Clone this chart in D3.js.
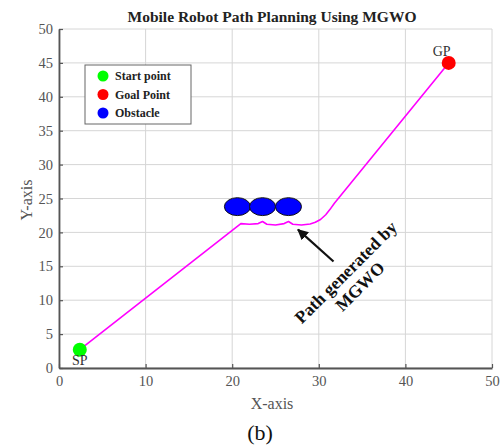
<!DOCTYPE html>
<html>
<head>
<meta charset="utf-8">
<script src="https://cdn.jsdelivr.net/npm/d3@7"></script>
<style>
  body { margin: 0; background: #fff; }
  svg { display: block; }
</style>
</head>
<body>
<svg width="502" height="448"></svg>
<script>
// data
const xTicks = [0, 10, 20, 30, 40, 50];
const yTicks = [0, 5, 10, 15, 20, 25, 30, 35, 40, 45, 50];
const startPoint = [2.4, 2.7];
const goalPoint = [45, 45];
const obstacles = [[20.6, 23.8], [23.5, 23.8], [26.5, 23.8]];
const pathX = [2.4, 21, 22, 23, 23.5, 24, 25, 26, 26.5, 27, 28, 29, 29.6, 30.2, 30.8, 31.3, 31.8, 45];
const pathY = [2.7, 21.3, 21.2, 21.3, 21.6, 21.2, 21.1, 21.3, 21.6, 21.2, 21.1, 21.25, 21.5, 21.9, 22.6, 23.4, 24.3, 45];
const legendItems = ["Start point", "Goal Point", "Obstacle"];
const legendColors = ["#00ff00", "#ff0000", "#0000ff"];

const serif = "Liberation Serif, Times New Roman, serif";
const svg = d3.select("svg");
svg.append("rect").attr("width", 502).attr("height", 448).attr("fill", "#fff");

const x = d3.scaleLinear().domain([0, 50]).range([59, 492]);
const y = d3.scaleLinear().domain([0, 50]).range([368, 29]);

// grid
svg.append("g").selectAll("line").data(xTicks).join("line")
   .attr("x1", d => x(d)).attr("x2", d => x(d))
   .attr("y1", y(0)).attr("y2", y(50))
   .attr("stroke", "#d6d6d6").attr("stroke-width", 1);
svg.append("g").selectAll("line").data(yTicks).join("line")
   .attr("x1", x(0)).attr("x2", x(50))
   .attr("y1", d => y(d)).attr("y2", d => y(d))
   .attr("stroke", "#d6d6d6").attr("stroke-width", 1);

// axes
const xAxis = svg.append("g")
   .attr("transform", `translate(0,${y(0)})`)
   .call(d3.axisBottom(x).tickValues(xTicks).tickSizeInner(-4).tickSizeOuter(0).tickPadding(8));
const yAxis = svg.append("g")
   .attr("transform", `translate(${x(0)},0)`)
   .call(d3.axisLeft(y).tickValues(yTicks).tickSizeInner(-4).tickSizeOuter(0).tickPadding(6));
[xAxis, yAxis].forEach(g => {
  g.select(".domain").attr("stroke", "#555").attr("stroke-width", 1.8);
  g.selectAll(".tick line").attr("stroke", "#555").attr("stroke-width", 1.2);
  g.selectAll(".tick text").attr("fill", "#555")
   .attr("font-family", serif).attr("font-size", 14.5);
});

// path
const line = d3.line().x(d => x(d[0])).y(d => y(d[1]));
svg.append("path")
   .datum(pathX.map((v, i) => [v, pathY[i]]))
   .attr("d", line)
   .attr("fill", "none")
   .attr("stroke", "#ff00ff")
   .attr("stroke-width", 1.6)
   .attr("stroke-linejoin", "round");

// obstacles (circles in data units)
const obR = 1.5;
svg.append("g").selectAll("ellipse").data(obstacles).join("ellipse")
   .attr("cx", d => x(d[0])).attr("cy", d => y(d[1]))
   .attr("rx", x(obR) - x(0)).attr("ry", (y(0) - y(obR)) * 0.88)
   .attr("fill", "#0000ff").attr("stroke", "#111").attr("stroke-width", 1);

// start and goal
svg.append("circle").attr("cx", x(startPoint[0])).attr("cy", y(startPoint[1]))
   .attr("r", 7).attr("fill", "#00ff00");
svg.append("circle").attr("cx", x(goalPoint[0])).attr("cy", y(goalPoint[1]))
   .attr("r", 7).attr("fill", "#ff0000");
svg.append("text").attr("x", x(startPoint[0])).attr("y", y(startPoint[1]) + 15)
   .attr("text-anchor", "middle").attr("font-family", serif).attr("font-size", 14)
   .attr("fill", "#333").text("SP");
svg.append("text").attr("x", x(goalPoint[0]) - 7).attr("y", y(goalPoint[1]) - 7)
   .attr("text-anchor", "middle").attr("font-family", serif).attr("font-size", 14)
   .attr("fill", "#333").text("GP");

// legend
svg.append("rect").attr("x", 85).attr("y", 65).attr("width", 106).attr("height", 59)
   .attr("fill", "#fff").attr("stroke", "#666").attr("stroke-width", 1);
const leg = svg.append("g").selectAll("g").data(legendItems).join("g")
   .attr("transform", (d, i) => `translate(103,${76 + i * 18.5})`);
leg.append("circle").attr("r", 5.5).attr("fill", (d, i) => legendColors[i]);
leg.append("text").attr("x", 12).attr("y", 4)
   .attr("font-family", serif).attr("font-size", 12).attr("font-weight", "bold")
   .attr("fill", "#222").text(d => d);

// annotation arrow
svg.append("defs").append("marker")
   .attr("id", "arrow").attr("viewBox", "0 0 10 10")
   .attr("refX", 9).attr("refY", 5)
   .attr("markerWidth", 5).attr("markerHeight", 5)
   .attr("orient", "auto")
   .append("path").attr("d", "M 0 0 L 10 5 L 0 10 Z").attr("fill", "#111");
svg.append("line")
   .attr("x1", x(31.7)).attr("y1", y(15.7))
   .attr("x2", x(27.6)).attr("y2", y(20.4))
   .attr("stroke", "#111").attr("stroke-width", 2.2)
   .attr("marker-end", "url(#arrow)");
const note = svg.append("text")
   .attr("transform", `translate(${x(33.6)},${y(13.5)}) rotate(-45)`)
   .attr("text-anchor", "middle").attr("font-family", serif)
   .attr("font-size", 17.5).attr("font-weight", "bold").attr("fill", "#111");
note.append("tspan").attr("x", 0).attr("dy", 0).text("Path generated by");
note.append("tspan").attr("x", 0).attr("dy", 20).text("MGWO");

// titles
svg.append("text").attr("x", 272).attr("y", 22).attr("text-anchor", "middle")
   .attr("font-family", serif).attr("font-size", 15.5).attr("font-weight", "bold")
   .attr("fill", "#222").text("Mobile Robot Path Planning Using MGWO");
svg.append("text").attr("x", 272).attr("y", 409).attr("text-anchor", "middle")
   .attr("font-family", serif).attr("font-size", 16).attr("fill", "#555").text("X-axis");
svg.append("text").attr("transform", "translate(32,200) rotate(-90)").attr("text-anchor", "middle")
   .attr("font-family", serif).attr("font-size", 16).attr("fill", "#555").text("Y-axis");
svg.append("text").attr("x", 260).attr("y", 440).attr("text-anchor", "middle")
   .attr("font-family", serif).attr("font-size", 22).attr("fill", "#111").text("(b)");
</script>
</body>
</html>
